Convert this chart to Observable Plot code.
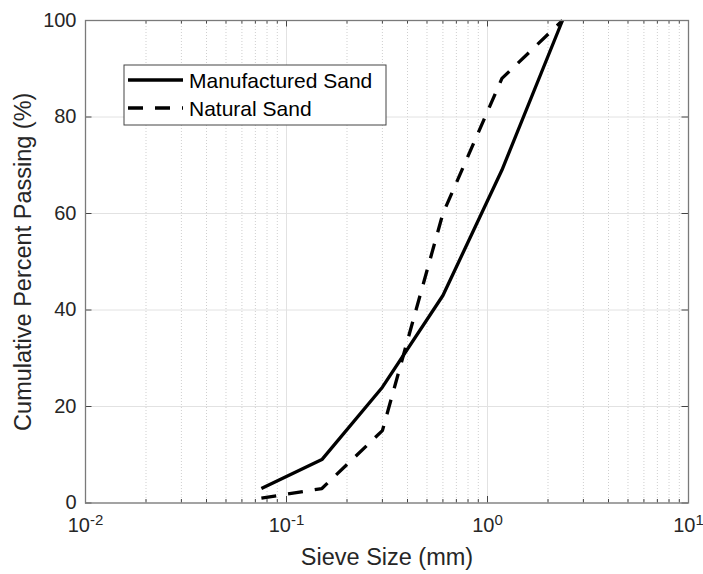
<!DOCTYPE html>
<html><head><meta charset="utf-8">
<script src="https://cdn.jsdelivr.net/npm/d3@7"></script>
<script src="https://cdn.jsdelivr.net/npm/@observablehq/plot@0.6"></script>
<style>body{margin:0;background:#fff} svg{display:block}</style>
</head><body><div id="chart"></div>
<script>
const sieveSizes = [0.075, 0.15, 0.3, 0.6, 1.18, 2.36];
const manufacturedSand = [3, 9, 24, 43, 69, 100];
const naturalSand = [1, 3, 15, 60, 88, 100];
const seriesNames = ["Manufactured Sand", "Natural Sand"];
const xMajorTicks = [0.01, 0.1, 1, 10];
const xTickLabels = ["10^-2", "10^-1", "10^0", "10^1"];
const xMinorTicks = [0.02, 0.03, 0.04, 0.05, 0.06, 0.07, 0.08, 0.09,
                     0.2, 0.3, 0.4, 0.5, 0.6, 0.7, 0.8, 0.9,
                     2, 3, 4, 5, 6, 7, 8, 9];
const yTicks = [0, 20, 40, 60, 80, 100];
const xLabel = "Sieve Size (mm)";
const yLabel = "Cumulative Percent Passing (%)";

const W = 703, H = 574, mL = 85, mR = 15, mT = 20, mB = 71.5;
const pw = W - mL - mR, ph = H - mT - mB;
const FONT = "'Liberation Sans', Arial, Helvetica, sans-serif";

const rows = sieveSizes.flatMap((s, i) => [
  {size: s, pct: manufacturedSand[i], series: seriesNames[0]},
  {size: s, pct: naturalSand[i], series: seriesNames[1]}
]);
const dashes = {[seriesNames[0]]: null, [seriesNames[1]]: "15,12"};

const plot = Plot.plot({
  width: W, height: H,
  marginLeft: mL, marginRight: mR, marginTop: mT, marginBottom: mB,
  style: {fontFamily: FONT, color: "#262626", background: "#fff", overflow: "visible"},
  x: {type: "log", domain: [0.01, 10]},
  y: {domain: [0, 100]},
  marks: [
    Plot.ruleX(xMinorTicks, {stroke: "#cfcfcf", strokeWidth: 1, strokeDasharray: "1,2"}),
    Plot.ruleX(xMajorTicks, {stroke: "#e2e2e2", strokeWidth: 1}),
    Plot.ruleY(yTicks, {stroke: "#e2e2e2", strokeWidth: 1}),
    ...seriesNames.map(name => Plot.line(rows.filter(r => r.series === name), {
      x: "size", y: "pct", stroke: "#000", strokeWidth: 3.3,
      strokeDasharray: dashes[name], strokeLinecap: "butt", strokeLinejoin: "miter"
    })),
    // ticks (inward, all four sides)
    Plot.ruleX(xMajorTicks, {stroke: "#444", strokeWidth: 1, insetTop: ph - 6.5}),
    Plot.ruleX(xMajorTicks, {stroke: "#444", strokeWidth: 1, insetBottom: ph - 6.5}),
    Plot.ruleX(xMinorTicks, {stroke: "#444", strokeWidth: 1, insetTop: ph - 3.5}),
    Plot.ruleX(xMinorTicks, {stroke: "#444", strokeWidth: 1, insetBottom: ph - 3.5}),
    Plot.ruleY(yTicks, {stroke: "#444", strokeWidth: 1, insetRight: pw - 6.5}),
    Plot.ruleY(yTicks, {stroke: "#444", strokeWidth: 1, insetLeft: pw - 6.5}),
    Plot.frame({stroke: "#7a7a7a", strokeWidth: 1.3}),
    Plot.axisX(xMajorTicks, {tickSize: 0, tickPadding: 15, fontSize: 20, label: null,
      tickFormat: d => xTickLabels[xMajorTicks.indexOf(d)]}),
    Plot.axisY(yTicks, {tickSize: 0, tickPadding: 9, fontSize: 20, label: null}),
    Plot.text([xLabel], {frameAnchor: "bottom", dy: 54, fontSize: 23.5, lineAnchor: "middle", textAnchor: "middle", fill: "#262626"}),
    Plot.text([yLabel], {frameAnchor: "left", dx: -62.5, rotate: -90, fontSize: 23.5, lineAnchor: "middle", textAnchor: "middle", fill: "#262626"})
  ]
});

// superscript exponents on the x tick labels
d3.select(plot).selectAll('[aria-label="x-axis tick label"] text').each(function () {
  const t = this.textContent;
  const m = t.match(/^(\d+)\^(.+)$/);
  if (!m) return;
  const el = d3.select(this);
  el.text(m[1]);
  el.append("tspan").attr("dy", "-0.5em").attr("font-size", "0.75em").text(m[2]);
});

// legend box
const svg = d3.select(plot);
const lg = svg.append("g").attr("font-family", FONT).attr("text-anchor", "start");
lg.append("rect").attr("x", 124).attr("y", 65).attr("width", 262).attr("height", 60)
  .attr("fill", "#fff").attr("stroke", "#444").attr("stroke-width", 1);
const rowY = [80, 108];
seriesNames.forEach((name, i) => {
  lg.append("line").attr("x1", 128).attr("x2", 183).attr("y1", rowY[i]).attr("y2", rowY[i])
    .attr("stroke", "#000").attr("stroke-width", 3.3)
    .attr("stroke-dasharray", dashes[name] || null);
  lg.append("text").attr("x", 189).attr("y", rowY[i] + 8).attr("font-size", 21)
    .attr("text-anchor", "start").attr("fill", "#000").text(name);
});

document.getElementById("chart").appendChild(plot);
</script>
</body></html>
